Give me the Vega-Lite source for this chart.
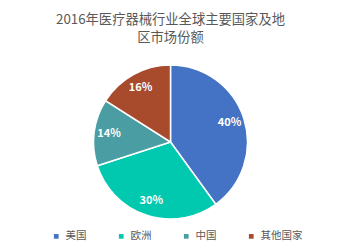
{
  "$schema": "https://vega.github.io/schema/vega-lite/v6.json",
  "width": 341,
  "height": 218,
  "autosize": {"type": "none"},
  "padding": {"top": 33, "left": 0, "right": 0, "bottom": 0},
  "background": "white",
  "title": {
    "text": ["2016年医疗器械行业全球主要国家及地", "区市场份额"],
    "font": "Noto Sans CJK SC",
    "fontSize": 13.3,
    "fontWeight": "normal",
    "color": "#595959",
    "anchor": "middle",
    "lineHeight": 17.5,
    "offset": -11
  },
  "data": {
    "values": [
      {"region": "美国", "value": 40, "label": "40%", "ord": 1},
      {"region": "欧洲", "value": 30, "label": "30%", "ord": 2},
      {"region": "中国", "value": 14, "label": "14%", "ord": 3},
      {"region": "其他国家", "value": 16, "label": "16%", "ord": 4}
    ]
  },
  "encoding": {
    "theta": {"field": "value", "type": "quantitative", "stack": true},
    "order": {"field": "ord", "type": "quantitative"},
    "color": {
      "field": "region",
      "type": "nominal",
      "scale": {
        "domain": ["美国", "欧洲", "中国", "其他国家"],
        "range": ["#4472C4", "#00C9B0", "#4A9DA2", "#A84A2C"]
      },
      "legend": {
        "orient": "none",
        "legendX": 51,
        "legendY": 198,
        "direction": "horizontal",
        "columns": 4,
        "gridAlign": "all",
        "columnPadding": 8,
        "title": null,
        "symbolType": "square",
        "symbolSize": 22,
        "symbolStrokeWidth": 0,
        "symbolOffset": 0,
        "labelOffset": 4,
        "labelFont": "Noto Sans CJK SC",
        "labelFontSize": 10.5,
        "labelColor": "#595959",
        "padding": 0
      }
    }
  },
  "layer": [
    {
      "mark": {"type": "arc", "outerRadius": 77, "stroke": "white", "strokeWidth": 1.5}
    },
    {
      "mark": {"type": "text", "radius": 62, "fill": "white", "fontWeight": "bold", "fontSize": 11, "font": "Noto Sans CJK SC"},
      "encoding": {
        "text": {"field": "label", "type": "nominal"},
        "color": {"value": "white"}
      }
    }
  ]
}
